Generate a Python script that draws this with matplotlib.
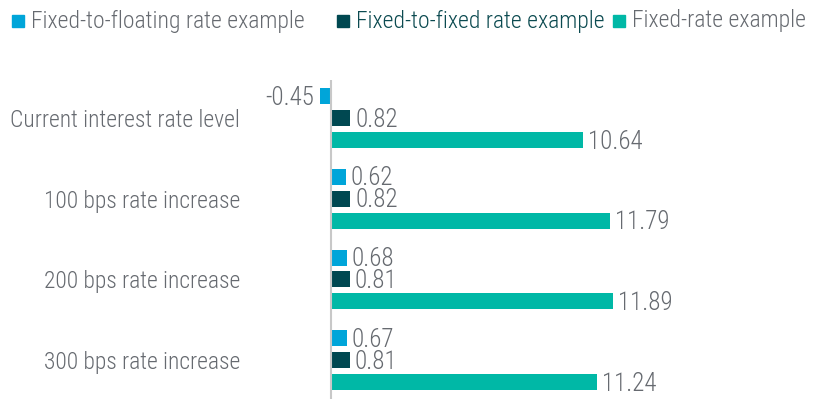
import matplotlib
matplotlib.use('Agg')
import matplotlib.pyplot as plt
from matplotlib.patches import Rectangle

plt.rcParams['font.family'] = ['Roboto Condensed', 'Liberation Sans', 'DejaVu Sans']
plt.rcParams['font.weight'] = 'light'

categories = ['Current interest rate level', '100 bps rate increase',
              '200 bps rate increase', '300 bps rate increase']
series_names = ['Fixed-to-floating rate example', 'Fixed-to-fixed rate example',
                'Fixed-rate example']
floating = [-0.45, 0.62, 0.68, 0.67]
fixed_fixed = [0.82, 0.82, 0.81, 0.81]
fixed_rate = [10.64, 11.79, 11.89, 11.24]

colors = ['#00a5d9', '#004851', '#00b8a6']
grey = '#666a70'

fig = plt.figure(figsize=(8.14, 3.99), dpi=100)
W, H = 814, 399
ax = fig.add_axes([300 / W, 0, 500 / W, 319 / H])

unit = 23.7  # px per value unit
ax.set_xlim(-31 / unit, 469 / unit)
ax.set_ylim(3.48, -0.47)

pitch = 22 / 81
bh = 16 / 81
for i, (vals, c) in enumerate(zip([floating, fixed_fixed, fixed_rate], colors)):
    ys = [g + (i - 1) * pitch for g in range(len(categories))]
    ax.barh(ys, vals, height=bh, color=c, zorder=2)
    for y, v in zip(ys, vals):
        if v < 0:
            ax.text(v - 0.28, y + 0.02, f'{v:.2f}', ha='right', va='center',
                    fontsize=18, color=grey)
        else:
            ax.text(v + 0.2, y + 0.02, f'{v:.2f}', ha='left', va='center',
                    fontsize=18, color=grey)

ax.axvline(0, color='#c8c8c8', lw=1.5, zorder=3)
for s in ax.spines.values():
    s.set_visible(False)
ax.set_xticks([])
ax.set_yticks(range(len(categories)))
ax.set_yticklabels(categories, fontsize=16.9, color=grey)
ax.tick_params(axis='y', length=0, pad=43)

# legend drawn at top
leg_x = [12, 337, 613]
text_colors = [grey, '#0b4a50', grey]
for x, name, c, tc in zip(leg_x, series_names, colors, text_colors):
    fig.patches.append(Rectangle((x / W, 1 - 27 / H), 12 / W, 12 / H,
                                 transform=fig.transFigure, color=c))
    fig.text((x + 19) / W, 1 - 21 / H, name, fontsize=17, color=tc,
             ha='left', va='center')

fig.savefig('out.png', dpi=100)
